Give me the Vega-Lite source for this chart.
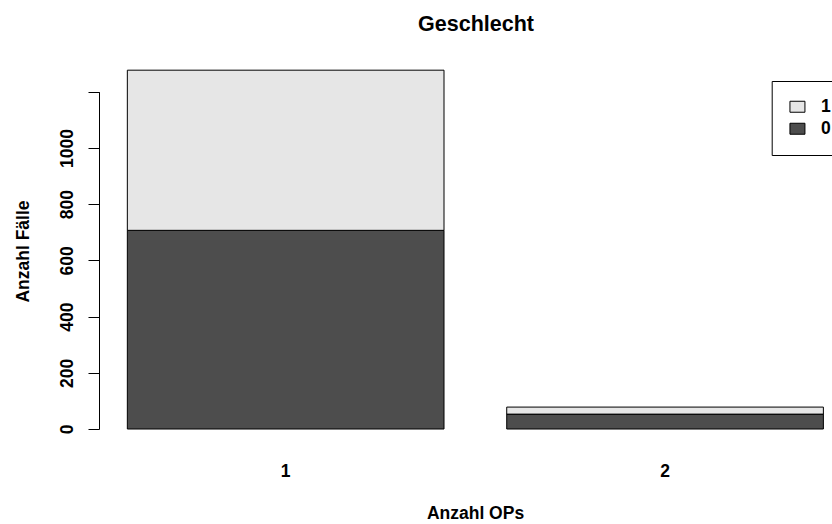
{
  "$schema": "https://vega.github.io/schema/vega-lite/v6.json",
  "autosize": {"type": "none"},
  "width": 733,
  "height": 388,
  "padding": {"left": 99, "top": 55, "right": 0, "bottom": 81},
  "background": "white",
  "title": {
    "text": "Geschlecht",
    "font": "Liberation Sans",
    "fontSize": 21.5,
    "fontWeight": "bold",
    "color": "black",
    "anchor": "middle",
    "frame": "group",
    "baseline": "alphabetic",
    "offset": 3,
    "dx": 10.5
  },
  "data": {
    "values": [
      {"ops": "1", "sex": "0", "count": 707},
      {"ops": "1", "sex": "1", "count": 570},
      {"ops": "2", "sex": "0", "count": 53},
      {"ops": "2", "sex": "1", "count": 25}
    ]
  },
  "mark": {"type": "bar", "stroke": "black", "strokeWidth": 1},
  "encoding": {
    "x": {
      "field": "ops",
      "type": "nominal",
      "scale": {"domain": ["1", "2"], "paddingInner": 0.1653, "paddingOuter": 0.0487, "align": 0.767},
      "axis": {
        "title": "Anzahl OPs",
        "orient": "bottom",
        "domain": false,
        "ticks": false,
        "tickSize": 0,
        "labelAngle": 0,
        "labelPadding": 19,
        "labelFont": "Liberation Sans",
        "labelFontSize": 17.5,
        "labelFontWeight": "bold",
        "labelColor": "black",
        "titleFont": "Liberation Sans",
        "titleFontSize": 17.5,
        "titleFontWeight": "bold",
        "titleColor": "black",
        "titleBaseline": "alphabetic",
        "titleX": 376,
        "titleY": 75,
        "titleAnchor": "middle",
        "titleAlign": "center"
      }
    },
    "y": {
      "field": "count",
      "type": "quantitative",
      "stack": "zero",
      "scale": {"domain": [-49.8, 1331], "nice": false, "zero": false},
      "axis": {
        "title": "Anzahl Fälle",
        "orient": "left",
        "values": [0, 200, 400, 600, 800, 1000, 1200],
        "labelExpr": "datum.value == 1200 ? '' : datum.label",
        "format": "d",
        "grid": false,
        "domain": true,
        "domainColor": "black",
        "domainWidth": 1,
        "domainDash": [0, 14, 337.3, 80],
        "ticks": true,
        "tickSize": 11,
        "tickColor": "black",
        "tickWidth": 1,
        "labelAngle": 270,
        "labelAlign": "center",
        "labelBaseline": "alphabetic",
        "labelPadding": 16,
        "labelFlush": false,
        "labelOverlap": false,
        "labelFont": "Liberation Sans",
        "labelFontSize": 17.5,
        "labelFontWeight": "bold",
        "labelColor": "black",
        "titleFont": "Liberation Sans",
        "titleFontSize": 17.5,
        "titleFontWeight": "bold",
        "titleColor": "black",
        "titleAngle": 270,
        "titleBaseline": "alphabetic",
        "titleAlign": "center",
        "titleX": -71,
        "titleY": 196
      }
    },
    "color": {
      "field": "sex",
      "type": "nominal",
      "scale": {"domain": ["1", "0"], "range": ["#E6E6E6", "#4D4D4D"]},
      "legend": {
        "title": null,
        "orient": "none",
        "legendX": 672.7,
        "legendY": 26,
        "strokeColor": "black",
        "padding": 17,
        "symbolType": "M-1,-0.733H1V0.733H-1Z",
        "symbolSize": 225,
        "symbolStrokeColor": "black",
        "symbolStrokeWidth": 1,
        "symbolOpacity": 1,
        "labelOffset": 14.7,
        "rowPadding": 3,
        "labelFont": "Liberation Sans",
        "labelFontSize": 17.5,
        "labelFontWeight": "bold",
        "labelColor": "black"
      }
    },
    "order": {"field": "sex", "type": "nominal", "sort": "ascending"}
  },
  "config": {
    "view": {"stroke": null},
    "legend": {"fillColor": "white"}
  }
}
